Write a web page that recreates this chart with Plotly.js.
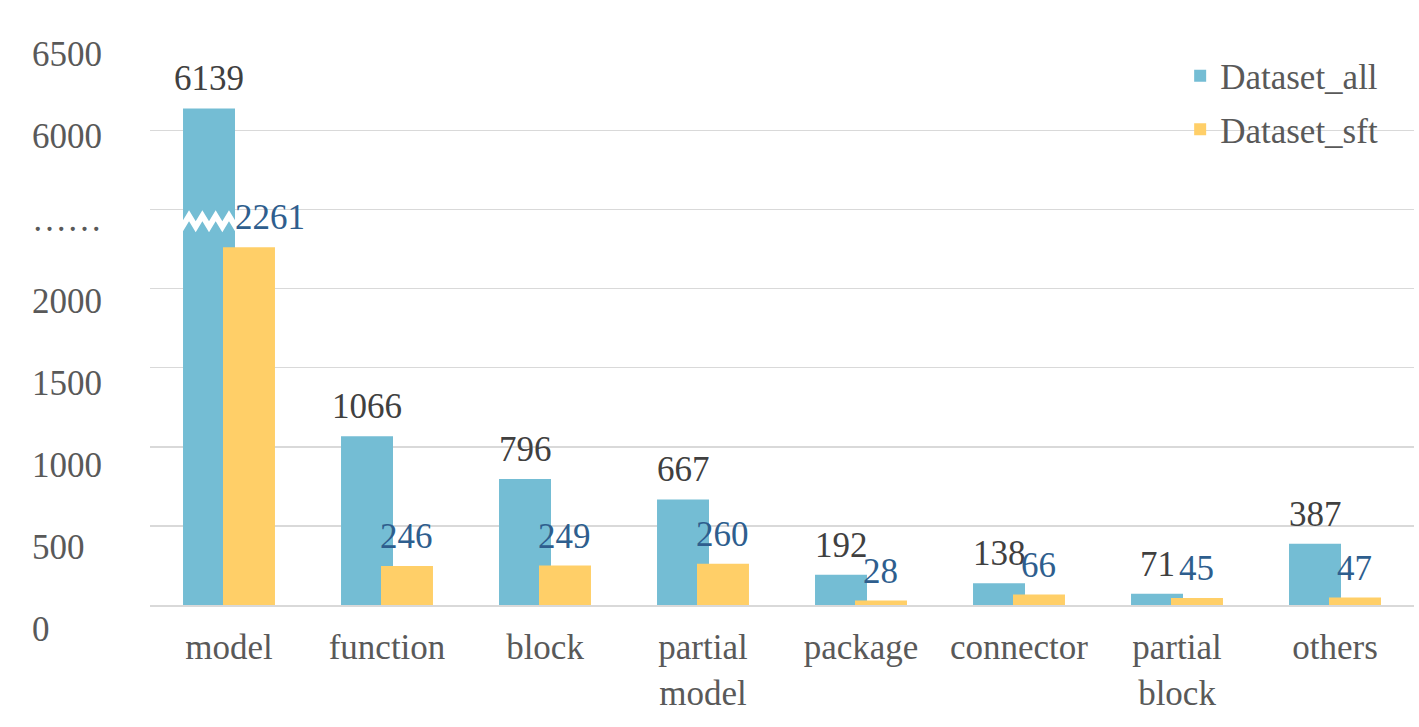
<!DOCTYPE html>
<html>
<head>
<meta charset="utf-8">
<script src="https://cdn.plot.ly/plotly-3.0.1.min.js"></script>
<style>html,body{margin:0;padding:0;background:#fff;}#chart{width:1419px;height:727px;}</style>
</head>
<body>
<div id="chart"></div>
<script>
// ---- data ----
const categories = ['model', 'function', 'block', 'partial<br>model', 'package', 'connector', 'partial<br>block', 'others'];
const datasetAll = [6139, 1066, 796, 667, 192, 138, 71, 387];
const datasetSft = [2261, 246, 249, 260, 28, 66, 45, 47];
const yTickLabels = ['0', '500', '1000', '1500', '2000', '……', '6000', '6500'];

// broken axis: values of 5500 and above are shifted down by 3000
const BREAK_AT = 5500;
const BREAK_SHIFT = 3000;
const toAxis = v => (v >= BREAK_AT ? v - BREAK_SHIFT : v);

const FONT = 'Liberation Serif, Times New Roman, serif';
const BLUE = '#74BDD4';
const YELLOW = '#FFCF68';
const BAR_W = 0.329;
const OFF_A = -0.291, OFF_B = -0.038;

const traceAll = {
  type: 'bar', name: 'Dataset_all', x: categories, y: datasetAll.map(toAxis),
  marker: {color: BLUE, line: {width: 0}}, width: BAR_W, offset: OFF_A,
  legendgroup: 'a', hoverinfo: 'skip'
};
const traceSft = {
  type: 'bar', name: 'Dataset_sft', x: categories, y: datasetSft.map(toAxis),
  marker: {color: YELLOW, line: {width: 0}}, width: BAR_W, offset: OFF_B,
  legendgroup: 'b', hoverinfo: 'skip'
};

const tickVals = yTickLabels.map((_, i) => i * 500);
const yMax = 3500;
const nCat = categories.length;

// y tick labels (left aligned, evenly spaced slightly wider than grid as in original)
const annotations = yTickLabels.map((t, i) => ({
  xref: 'paper', yref: 'paper', x: -0.095, xanchor: 'left',
  y: -0.045 + i * 0.1483, yanchor: 'middle',
  text: t, showarrow: false,
  font: {family: FONT, size: 35, color: '#595959'}
}));

// value labels above bars
const LABEL_SHIFT = 8;
datasetAll.forEach((v, i) => {
  annotations.push({
    xref: 'x', yref: 'y', x: i + OFF_A + BAR_W / 2, y: toAxis(v),
    xanchor: 'center', yanchor: 'bottom', yshift: LABEL_SHIFT,
    text: String(v), showarrow: false,
    font: {family: FONT, size: 35, color: '#404040'}
  });
});
datasetSft.forEach((v, i) => {
  const besideBreak = datasetAll[i] >= BREAK_AT; // keep clear of the break mark
  annotations.push({
    xref: 'x', yref: 'y',
    x: besideBreak ? i + OFF_A + BAR_W : i + OFF_B + BAR_W / 2, y: toAxis(v),
    xanchor: besideBreak ? 'left' : 'center', yanchor: 'bottom', yshift: LABEL_SHIFT,
    xshift: besideBreak ? -2 : 0,
    text: String(v), showarrow: false,
    font: {family: FONT, size: 35, color: '#2E5E8E'}
  });
});

// zigzag break mark on the first (broken) bar
const bx0 = (0.5 + OFF_A - 0.004) / nCat, bx1 = (0.5 + OFF_A + BAR_W + 0.004) / nCat;
const yc = 2424 / yMax; // paper y of break centre
const amp = 11 / 554 / 2, thick = 11 / 554 / 2;
const upperEdge = [], lowerEdge = [];
const periods = 4;
for (let k = 0; k <= periods * 2; k++) {
  const x = bx0 + (bx1 - bx0) * k / (periods * 2);
  const up = (k % 2 === 1) ? amp : -amp;
  upperEdge.push([x, yc + thick + up]);
  lowerEdge.push([x, yc - thick + up]);
}
let zzPath = 'M ' + upperEdge.map(p => p[0] + ',' + p[1]).join(' L ');
zzPath += ' L ' + lowerEdge.reverse().map(p => p[0] + ',' + p[1]).join(' L ') + ' Z';

const layout = {
  width: 1419, height: 727,
  margin: {l: 150, r: 5, t: 51, b: 122},
  paper_bgcolor: '#ffffff', plot_bgcolor: '#ffffff',
  barmode: 'overlay',
  font: {family: FONT, size: 35, color: '#595959'},
  showlegend: true,
  legend: {
    x: 0.815, xanchor: 'left', y: 1.008, yanchor: 'top',
    font: {family: FONT, size: 35, color: '#595959'},
    bgcolor: 'rgba(0,0,0,0)', traceorder: 'grouped', tracegroupgap: 5
  },
  xaxis: {
    type: 'category', range: [-0.5, nCat - 0.5], ticks: '', showgrid: false,
    showline: true, linecolor: '#D9D9D9', linewidth: 2,
    tickfont: {family: FONT, size: 35, color: '#595959'}, ticklabelstandoff: 10
  },
  yaxis: {
    range: [0, yMax + 2], tickvals: tickVals, showticklabels: false,
    showgrid: true, gridcolor: '#D9D9D9', gridwidth: 1.5, zeroline: false, ticks: ''
  },
  annotations: annotations,
  shapes: [{
    type: 'path', xref: 'paper', yref: 'paper', path: zzPath,
    fillcolor: '#ffffff', line: {width: 0}, layer: 'above'
  }]
};

Plotly.newPlot('chart', [traceAll, traceSft], layout, {staticPlot: true, displayModeBar: false});
</script>
</body>
</html>
